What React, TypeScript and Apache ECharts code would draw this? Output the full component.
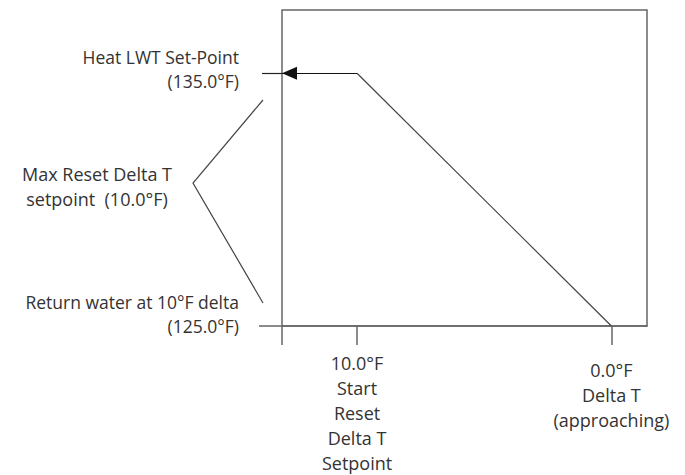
import React, { useEffect, useRef } from "react";
import * as echarts from "echarts";

// Axis extents (Delta T in °F on x, leaving water temperature in °F on y)
const X_MIN = -1.4;
const X_MAX = 12.95;
const Y_MIN = 125;
const Y_MAX = 137.5;

// Reset curve: Delta T vs LWT setpoint
const deltaT = [10, 0];
const lwt = [135, 125];

// Tick / label texts
const xLabelStart = ["10.0°F", "Start", "Reset", "Delta T", "Setpoint"];
const xLabelEnd = ["0.0°F", "Delta T", "(approaching)"];
const yLabelTop = ["Heat LWT Set-Point", "(135.0°F)"];
const yLabelBottom = ["Return water at 10°F delta", "(125.0°F)"];
const bracketLabel = ["Max Reset Delta T", "setpoint  (10.0°F)"];

const FONT = "Open Sans";
const FS = 18;
const FS_Y = 17.5;
const TXT = "#333333";
const AX = "#666666";

export default function App() {
  const ref = useRef<HTMLDivElement>(null);
  useEffect(() => {
    if (!ref.current) return;
    const chart = echarts.init(ref.current, null, { renderer: "svg" });
    const textBase = { fontFamily: FONT, fontSize: FS, color: TXT };
    const xCommon = {
      type: "value" as const,
      min: X_MIN,
      max: X_MAX,
      inverse: true,
      position: "bottom" as const,
      splitLine: { show: false },
    };
    const yCommon = {
      type: "value" as const,
      min: Y_MIN,
      max: Y_MAX,
      position: "left" as const,
      splitLine: { show: false },
      axisLine: { show: false, onZero: false },
    };
    const richLines = (lines: string[]) =>
      lines.map((l) => `{a|${l}}`).join("\n") + "\n{p| }";
    chart.setOption({
      animation: false,
      grid: {
        left: 282,
        right: 38,
        top: 10,
        bottom: 149,
        show: true,
        borderColor: AX,
        borderWidth: 1.5,
        containLabel: false,
        outerBoundsMode: "none",
      },
      xAxis: [
        {
          ...xCommon,
          axisLine: { show: true, onZero: false, lineStyle: { color: AX, width: 1.5 } },
          axisTick: {
            show: true,
            customValues: [X_MAX, deltaT[0]],
            length: 19,
            lineStyle: { color: AX, width: 1.5 },
          },
          axisLabel: {
            ...textBase,
            customValues: [deltaT[0]],
            formatter: () => xLabelStart.join("\n"),
            margin: 24,
            lineHeight: 25,
            align: "center",
          },
        },
        {
          ...xCommon,
          axisLine: { show: false, onZero: false },
          axisTick: {
            show: true,
            customValues: [deltaT[1]],
            length: 19,
            lineStyle: { color: AX, width: 1.5 },
          },
          axisLabel: {
            ...textBase,
            customValues: [deltaT[1]],
            formatter: () => xLabelEnd.join("\n"),
            margin: 31,
            lineHeight: 25,
            align: "center",
          },
        },
      ],
      yAxis: [
        {
          ...yCommon,
          axisTick: {
            show: true,
            customValues: [lwt[0]],
            length: 20,
            lineStyle: { color: "#222222", width: 1.2 },
          },
          axisLabel: {
            ...textBase,
            customValues: [lwt[0]],
            formatter: () => richLines(yLabelTop),
            margin: 43,
            align: "right",
            rich: {
              a: { fontFamily: FONT, fontSize: FS_Y, color: TXT, lineHeight: 24, align: "right" },
              p: { fontSize: 1, lineHeight: 8 },
            },
          },
        },
        {
          ...yCommon,
          axisTick: {
            show: true,
            customValues: [lwt[1]],
            length: 23,
            lineStyle: { color: AX, width: 1.5 },
          },
          axisLabel: {
            ...textBase,
            customValues: [lwt[1]],
            formatter: () => richLines(yLabelBottom),
            margin: 43,
            align: "right",
            rich: {
              a: { fontFamily: FONT, fontSize: FS_Y, color: TXT, lineHeight: 24, align: "right" },
              p: { fontSize: 1, lineHeight: 24 },
            },
          },
        },
      ],
      series: [
        {
          type: "line",
          xAxisIndex: 0,
          yAxisIndex: 0,
          data: deltaT.map((d, i) => [d, lwt[i]]),
          symbol: "none",
          lineStyle: { color: "#444444", width: 1.2 },
          markLine: {
            silent: true,
            symbol: ["none", "triangle"],
            label: { show: false },
            lineStyle: { color: "#111111", width: 1.2, type: "solid" },
            data: [
              [
                { coord: [deltaT[0], lwt[0]] },
                { coord: [X_MAX, lwt[0]], symbolSize: [13, 15], symbolOffset: [0, 7.5] },
              ],
            ],
          },
        },
      ],
      graphic: [
        {
          type: "polyline",
          shape: { points: [[263, 100], [193, 183], [263, 303]] },
          style: { stroke: "#444444", lineWidth: 1.2, fill: null },
        },
        {
          type: "text",
          x: 97,
          y: 186.5,
          style: {
            text: bracketLabel.join("\n"),
            fontFamily: FONT,
            fontSize: FS,
            fill: TXT,
            align: "center",
            verticalAlign: "middle",
            lineHeight: 25,
          },
        },
      ],
    });
    return () => chart.dispose();
  }, []);
  return (
    <div
      ref={ref}
      style={{ position: "fixed", left: 0, top: 0, width: 685, height: 475, background: "#fff" }}
    />
  );
}
